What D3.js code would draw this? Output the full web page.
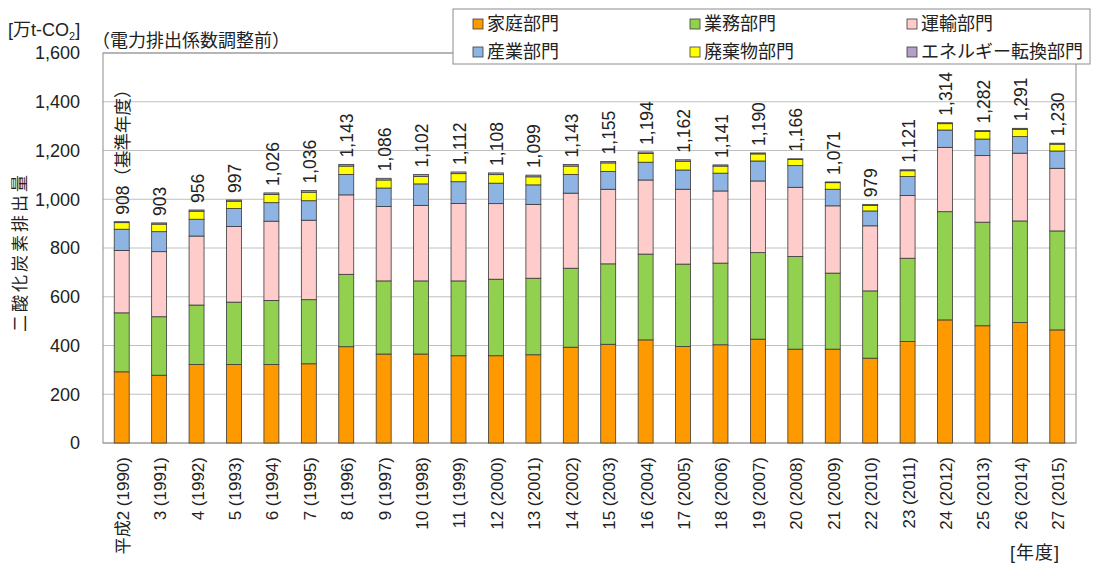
<!DOCTYPE html>
<html>
<head>
<meta charset="utf-8">
<script src="https://cdn.jsdelivr.net/npm/d3@7"></script>
<style>
    body { margin: 0; background: #fff; }
    text { font-family: "Liberation Sans", Arial, "Noto Sans CJK JP", sans-serif; fill: #222; }
</style>
</head>
<body>
<div id="svg-container"></div>
<script>

const years = ["平成2 (1990)", "3 (1991)", "4 (1992)", "5 (1993)", "6 (1994)", "7 (1995)", "8 (1996)", "9 (1997)", "10 (1998)",
    "11 (1999)", "12 (2000)", "13 (2001)", "14 (2002)", "15 (2003)", "16 (2004)", "17 (2005)", "18 (2006)", "19 (2007)",
    "20 (2008)", "21 (2009)", "22 (2010)", "23 (2011)", "24 (2012)", "25 (2013)", "26 (2014)", "27 (2015)"];

const totals = [908, 903, 956, 997, 1026, 1036, 1143, 1086, 1102, 1112, 1108, 1099, 1143, 1155, 1194, 1162, 1141, 1190,
    1166, 1071, 979, 1121, 1314, 1282, 1291, 1230];

const katei  = [292, 278, 322, 322, 322, 325, 395, 365, 365, 358, 358, 362, 393, 405, 423, 396, 403, 426, 385, 385, 348, 416, 505, 481, 494, 464];
const gyomu  = [242, 240, 244, 256, 263, 263, 297, 300, 300, 307, 314, 314, 324, 330, 352, 338, 335, 355, 380, 312, 276, 342, 444, 425, 417, 406];
const unyu   = [256, 267, 283, 310, 325, 326, 326, 305, 310, 318, 310, 303, 308, 306, 304, 307, 296, 294, 284, 276, 267, 257, 264, 273, 278, 257];
const sangyo = [87, 82, 69, 74, 76, 80, 84, 76, 88, 89, 84, 80, 77, 73, 73, 79, 73, 82, 89, 68, 61, 78, 71, 68, 68, 71];
const haiki  = [27, 31, 33, 30, 34, 35, 34, 33, 31, 33, 35, 33, 34, 35, 36, 36, 29, 29, 25, 27, 22, 24, 26, 31, 30, 28];
const tenkan = [4, 5, 5, 5, 6, 7, 7, 7, 8, 7, 7, 7, 7, 6, 6, 6, 5, 4, 3, 3, 5, 4, 4, 4, 4, 4];

const yTicks = [0, 200, 400, 600, 800, 1000, 1200, 1400, 1600];

const sectors = [
    {key: "katei", name: "家庭部門", color: "#ff9900", values: katei},
    {key: "gyomu", name: "業務部門", color: "#92d050", values: gyomu},
    {key: "unyu", name: "運輸部門", color: "#ffcccc", values: unyu},
    {key: "sangyo", name: "産業部門", color: "#8db4e2", values: sangyo},
    {key: "haiki", name: "廃棄物部門", color: "#ffff00", values: haiki},
    {key: "tenkan", name: "エネルギー転換部門", color: "#b2a1c7", values: tenkan}
];

const legendOrder = ["katei", "gyomu", "unyu", "sangyo", "haiki", "tenkan"];

const buildChart = () => {

    const [width, height] = [1096, 565];
    const plot = {left: 103, right: 1076, top: 53, bottom: 443};

    const svg = d3.select("#svg-container")
        .append("svg")
        .attr("width", width)
        .attr("height", height);

    const rows = years.map((y, i) => {
        let row = {year: y, total: totals[i]};
        sectors.forEach(s => row[s.key] = s.values[i]);
        return row;
    });

    const stacked = d3.stack().keys(sectors.map(s => s.key))(rows);

    const x = d3.scaleBand()
        .domain(years)
        .range([plot.left, plot.right])
        .paddingInner(0.6)
        .paddingOuter(0.3);

    const y = d3.scaleLinear()
        .domain([0, 1600])
        .range([plot.bottom, plot.top]);

    // grid
    svg.append("g")
        .selectAll("line")
        .data(yTicks)
        .enter()
        .append("line")
        .attr("x1", plot.left)
        .attr("x2", plot.right)
        .attr("y1", d => y(d))
        .attr("y2", d => y(d))
        .attr("stroke", "#c0c0c0")
        .attr("stroke-width", 1);

    // plot frame
    svg.append("rect")
        .attr("x", plot.left)
        .attr("y", plot.top)
        .attr("width", plot.right - plot.left)
        .attr("height", plot.bottom - plot.top)
        .attr("fill", "none")
        .attr("stroke", "#8c8c8c")
        .attr("stroke-width", 1);

    // y axis labels
    const yAxis = svg.append("g")
        .attr("transform", `translate(${plot.left - 23},0)`)
        .call(d3.axisLeft(y).tickValues(yTicks).tickSize(0).tickPadding(0).tickFormat(d3.format(",")));
    yAxis.select(".domain").remove();
    yAxis.selectAll("text")
        .attr("font-size", 18)
        .attr("text-anchor", "end")
        .attr("font-family", null);

    // stacked bars
    svg.append("g")
        .selectAll("g")
        .data(stacked)
        .enter()
        .append("g")
        .attr("fill", (d, i) => sectors[i].color)
        .selectAll("rect")
        .data(d => d)
        .enter()
        .append("rect")
        .attr("x", d => x(d.data.year))
        .attr("width", x.bandwidth())
        .attr("y", d => y(d[1]))
        .attr("height", d => y(d[0]) - y(d[1]))
        .attr("stroke", "#3a3a3a")
        .attr("stroke-width", 0.8);

    // totals on top
    svg.append("g")
        .selectAll("text")
        .data(rows)
        .enter()
        .append("text")
        .attr("transform", d => `translate(${x(d.year) + x.bandwidth() / 2 + 1},${y(d.total) - 7}) rotate(-90)`)
        .attr("dy", "0.35em")
        .attr("font-size", 17.5)
        .text((d, i) => i === 0 ? `${d3.format(",")(d.total)}（基準年度）` : d3.format(",")(d.total));

    // x labels
    svg.append("g")
        .selectAll("text")
        .data(years)
        .enter()
        .append("text")
        .attr("transform", d => `translate(${x(d) + x.bandwidth() / 2 + 1},${plot.bottom + 14}) rotate(-90)`)
        .attr("dy", "0.35em")
        .attr("text-anchor", "end")
        .attr("font-size", 17)
        .text(d => d);

    // titles
    const unit = svg.append("text")
        .attr("x", 8)
        .attr("y", 36)
        .attr("font-size", 18);
    unit.append("tspan").text("[万t-CO");
    unit.append("tspan").attr("font-size", 11).attr("dy", 4).text("2");
    unit.append("tspan").attr("dy", -4).text("]");

    svg.append("text")
        .attr("x", 92)
        .attr("y", 47)
        .attr("font-size", 18)
        .text("（電力排出係数調整前）");

    svg.append("text")
        .attr("transform", "translate(20,252) rotate(-90)")
        .attr("dy", "0.35em")
        .attr("text-anchor", "middle")
        .attr("font-size", 17)
        .attr("letter-spacing", 3)
        .text("二酸化炭素排出量");

    svg.append("text")
        .attr("x", 1035)
        .attr("y", 559)
        .attr("text-anchor", "middle")
        .attr("font-size", 18)
        .attr("letter-spacing", 1)
        .text("[年度]");

    // legend
    const legend = svg.append("g");
    legend.append("rect")
        .attr("x", 453)
        .attr("y", 9)
        .attr("width", 637)
        .attr("height", 55)
        .attr("fill", "#fff")
        .attr("stroke", "#8c8c8c");

    const item = legend.selectAll("g")
        .data(legendOrder.map(k => sectors.find(s => s.key === k)))
        .enter()
        .append("g")
        .attr("transform", (d, i) => `translate(${473 + (i % 3) * 217},${i < 3 ? 24 : 52})`);

    item.append("rect")
        .attr("x", 0)
        .attr("y", -5)
        .attr("width", 10)
        .attr("height", 10)
        .attr("fill", d => d.color)
        .attr("stroke", "#3a3a3a")
        .attr("stroke-width", 0.8);

    item.append("text")
        .attr("x", 14)
        .attr("dy", "0.36em")
        .attr("font-size", 18)
        .text(d => d.name);
};

buildChart();

</script>
</body>
</html>
